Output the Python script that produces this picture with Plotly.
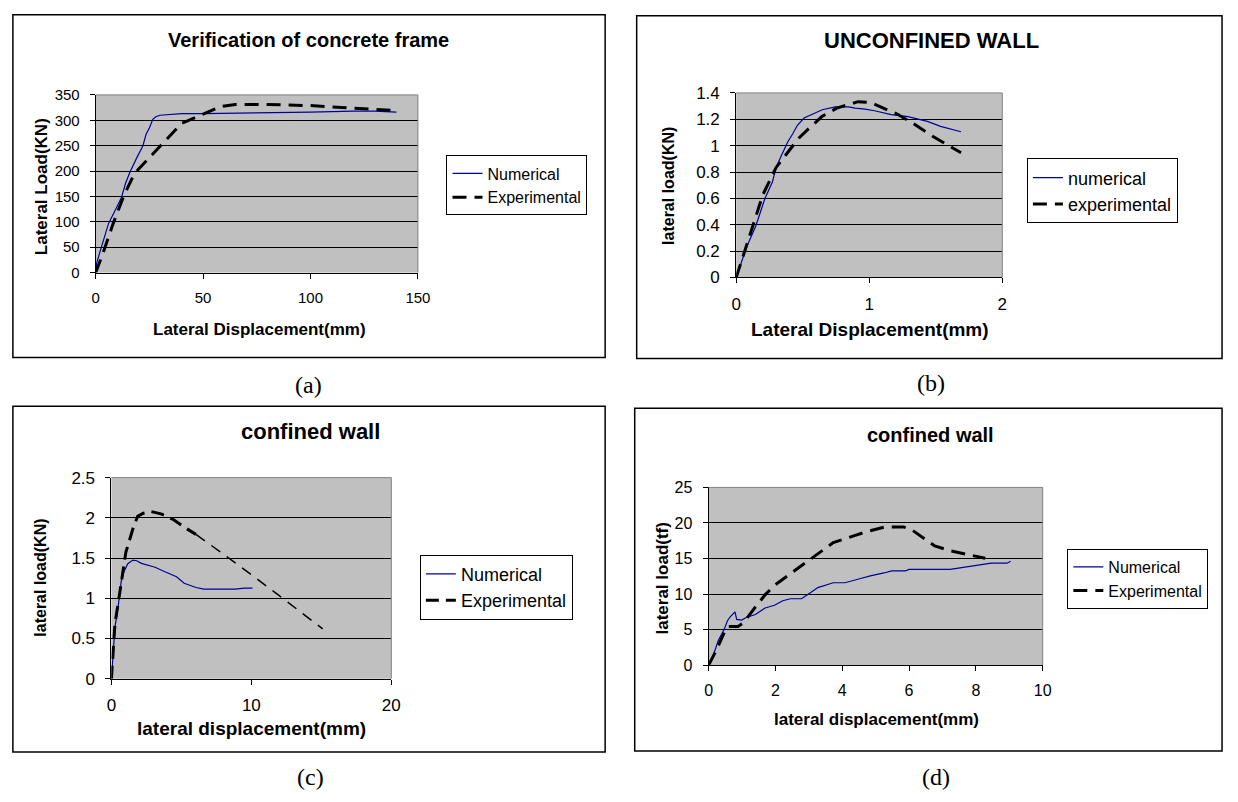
import plotly.graph_objects as go

W, H = 1238, 802

# ---------------- data ----------------
# (a) Verification of concrete frame
a_num_x = [0, 0.5, 1.8, 4, 6, 9, 12, 14, 16, 19, 22, 23.5, 25, 26.6, 28, 30, 35, 40, 50, 70, 100, 120, 130, 140]
a_num_y = [0, 19, 38, 70, 97, 122, 148, 177, 198, 225, 250, 273, 285, 302, 307, 310, 312, 313, 313, 314, 316, 318, 318, 316]
a_exp_x = [0, 3, 8, 13, 18, 22, 31, 40, 50, 58, 65, 80, 100, 120, 140]
a_exp_y = [0, 33, 95, 150, 195, 213, 254, 294, 312, 327, 331, 331, 329, 324, 319]

# (b) UNCONFINED WALL
b_num_x = [0, 0.079, 0.148, 0.215, 0.272, 0.30, 0.338, 0.388, 0.425, 0.46, 0.51, 0.57, 0.647, 0.745, 0.844, 0.894, 0.968, 1.04, 1.165, 1.29, 1.437, 1.536, 1.689]
b_num_y = [0, 0.233, 0.393, 0.597, 0.725, 0.835, 0.921, 1.03, 1.09, 1.155, 1.21, 1.236, 1.273, 1.295, 1.295, 1.285, 1.278, 1.265, 1.236, 1.22, 1.184, 1.147, 1.106]
b_exp_x = [0, 0.067, 0.128, 0.2, 0.30, 0.398, 0.47, 0.546, 0.644, 0.756, 0.916, 1.01, 1.11, 1.21, 1.333, 1.48, 1.69]
b_exp_y = [0, 0.209, 0.405, 0.627, 0.835, 0.958, 1.057, 1.13, 1.221, 1.285, 1.334, 1.327, 1.285, 1.24, 1.167, 1.069, 0.946]

# (c) confined wall (KN)
c_num_x = [0, 0.08, 0.25, 0.47, 0.7, 0.89, 1.17, 1.53, 1.81, 2.14, 2.7, 3.12, 3.82, 4.65, 5.2, 6.04, 6.6, 8.83, 9.53, 10.08]
c_num_y = [0, 0.19, 0.64, 0.88, 1.21, 1.33, 1.43, 1.475, 1.467, 1.434, 1.402, 1.386, 1.33, 1.268, 1.187, 1.134, 1.114, 1.114, 1.126, 1.126]
c_exp_x = [0, 0.08, 0.25, 0.61, 1.03, 1.59, 1.87, 2.28, 2.84, 3.54, 4.37, 5.2, 6.04, 9.1, 11.9, 15.1]
c_exp_y = [0, 0.275, 0.68, 1.086, 1.572, 1.896, 2.018, 2.058, 2.078, 2.05, 1.985, 1.884, 1.795, 1.41, 1.045, 0.62]

# (d) confined wall (tf)
d_num_x = [0, 0.14, 0.29, 0.47, 0.56, 0.64, 0.79, 0.84, 0.99, 1.11, 1.4, 1.69, 1.97, 2.22, 2.45, 2.78, 2.98, 3.27, 3.73, 4.08, 4.55, 4.84, 5.25, 5.48, 5.89, 6.0, 7.23, 8.05, 8.46, 8.93, 9.04]
d_num_y = [0, 1.38, 3.45, 5.06, 6.2, 6.76, 7.49, 6.43, 6.34, 6.66, 7.12, 8.04, 8.41, 9.05, 9.33, 9.33, 9.97, 10.9, 11.58, 11.58, 12.18, 12.55, 12.96, 13.24, 13.24, 13.46, 13.46, 14.0, 14.34, 14.34, 14.6]
d_exp_x = [0, 0.23, 0.47, 0.58, 0.88, 1.05, 1.34, 1.69, 1.98, 2.45, 3.03, 3.73, 4.32, 4.78, 5.25, 5.83, 6.07, 6.42, 6.77, 7.23, 7.7, 8.28]
d_exp_y = [0, 2.07, 4.6, 5.42, 5.42, 5.97, 7.81, 9.88, 11.26, 12.87, 14.94, 17.23, 18.15, 18.84, 19.39, 19.44, 19.07, 17.92, 16.77, 16.08, 15.62, 15.03]

titles = ["Verification of concrete frame", "UNCONFINED WALL", "confined wall", "confined wall"]
xtitles = ["Lateral Displacement(mm)", "Lateral Displacement(mm)", "lateral displacement(mm)", "lateral displacement(mm)"]
ytitles = ["Lateral Load(KN)", "lateral load(KN)", "lateral load(KN)", "lateral load(tf)"]
legend_names = [["Numerical", "Experimental"], ["numerical", "experimental"],
                ["Numerical", "Experimental"], ["Numerical", "Experimental"]]
captions = ["(a)", "(b)", "(c)", "(d)"]
x_ranges = [[0, 150], [0, 2], [0, 20], [0, 10]]
x_dticks = [50, 1, 10, 2]
y_ranges = [[0, 350], [0, 1.4], [0, 2.5], [0, 25]]
y_dticks = [50, 0.2, 0.5, 5]

# ---------------- layout geometry (pixels) ----------------
plot_px = [(92, 419, 88, 270), (742, 1012, 86, 275), (108, 392, 480, 686), (714, 1053, 490, 672)]
frame_px = [(8, 6, 609, 357), (641, 7, 1235, 358), (8, 407, 609, 761), (639, 409, 1235, 760)]
title_px = [(308, 32), (940, 32), (310, 433), (939, 436)]
xt_px = [(258, 328), (878, 328), (250, 737), (884, 728)]
yt_px = [(37, 182), (673, 181), (36, 582), (667, 583)]
leg_px = [(448, 150), (1037, 153), (421, 559), (1078, 553)]
cap_px = [(308, 385), (940, 383), (310, 787), (945, 787)]

FONT = "Liberation Sans, Arial, sans-serif"
tick_sizes = [15, 17, 17, 16]
title_sizes = [20, 22, 22, 20]
xt_sizes = [17, 19, 19, 17]
yt_sizes = [17, 16, 16, 17]
leg_sizes = [16, 18, 18, 16]

NAVY = "#000099"


def px_x(v):
    return v / W


def px_y(v):
    return 1 - v / H


fig = go.Figure()

data = [(a_num_x, a_num_y, a_exp_x, a_exp_y), (b_num_x, b_num_y, b_exp_x, b_exp_y),
        (c_num_x, c_num_y, c_exp_x, c_exp_y), (d_num_x, d_num_y, d_exp_x, d_exp_y)]

shapes = []
annotations = []
layout = {}
for i in range(4):
    sfx = "" if i == 0 else str(i + 1)
    xa, ya = "x" + sfx, "y" + sfx
    leg = "legend" + sfx
    nx, ny, ex, ey = data[i]
    fig.add_trace(go.Scatter(x=nx, y=ny, mode="lines", name=legend_names[i][0],
                             line=dict(color=NAVY, width=1.2), xaxis=xa, yaxis=ya, legend=leg))
    if i == 2:
        split = 13
        fig.add_trace(go.Scatter(x=ex[:split], y=ey[:split], mode="lines", name=legend_names[i][1],
                                 line=dict(color="black", width=3, dash="13px,7px"), xaxis=xa, yaxis=ya, legend=leg))
        fig.add_trace(go.Scatter(x=ex[split - 1:], y=ey[split - 1:], mode="lines", showlegend=False,
                                 line=dict(color="black", width=1.5, dash="11px,8px"), xaxis=xa, yaxis=ya))
    else:
        fig.add_trace(go.Scatter(x=ex, y=ey, mode="lines", name=legend_names[i][1],
                                 line=dict(color="black", width=3, dash="14px,8px"), xaxis=xa, yaxis=ya, legend=leg))

    x0, x1, y0, y1 = plot_px[i]
    layout["xaxis" + sfx] = dict(
        domain=[px_x(x0), px_x(x1)], anchor=ya, range=x_ranges[i], dtick=x_dticks[i], tick0=0,
        showgrid=False, zeroline=False, showline=True, linecolor="black", linewidth=1,
        ticks="outside", ticklen=5, tickcolor="black", ticklabelstandoff=6,
        tickfont=dict(family=FONT, size=tick_sizes[i], color="black"))
    layout["yaxis" + sfx] = dict(
        domain=[px_y(y1), px_y(y0)], anchor=xa, range=y_ranges[i], dtick=y_dticks[i], tick0=0,
        showgrid=True, gridcolor="black", gridwidth=1, zeroline=False, showline=True,
        linecolor="black", linewidth=1, ticks="outside", ticklen=5, tickcolor="black",
        ticklabelstandoff=7, tickfont=dict(family=FONT, size=tick_sizes[i], color="black"))

    lx, ly = leg_px[i]
    layout[leg] = dict(x=px_x(lx), y=px_y(ly), xanchor="left", yanchor="top", xref="paper", yref="paper",
                       bgcolor="white", bordercolor="black", borderwidth=1,
                       font=dict(family=FONT, size=leg_sizes[i], color="black"),
                       tracegroupgap=4, itemwidth=30)

    # grey top / right plot-area border
    shapes.append(dict(type="line", xref=xa + " domain", yref=ya + " domain", x0=0, x1=1, y0=1, y1=1,
                       line=dict(color="#808080", width=1)))
    shapes.append(dict(type="line", xref=xa + " domain", yref=ya + " domain", x0=1, x1=1, y0=0, y1=1,
                       line=dict(color="#808080", width=1)))
    # chart frame
    fx0, fy0, fx1, fy1 = frame_px[i]
    shapes.append(dict(type="rect", xref="paper", yref="paper", x0=px_x(fx0), x1=px_x(fx1),
                       y0=px_y(fy1), y1=px_y(fy0), line=dict(color="black", width=1.5)))

    tx, ty = title_px[i]
    annotations.append(dict(text="<b>%s</b>" % titles[i], x=px_x(tx), y=px_y(ty), xref="paper", yref="paper",
                            showarrow=False, xanchor="center", yanchor="middle",
                            font=dict(family=FONT, size=title_sizes[i], color="black")))
    tx, ty = xt_px[i]
    annotations.append(dict(text="<b>%s</b>" % xtitles[i], x=px_x(tx), y=px_y(ty), xref="paper", yref="paper",
                            showarrow=False, xanchor="center", yanchor="middle",
                            font=dict(family=FONT, size=xt_sizes[i], color="black")))
    tx, ty = yt_px[i]
    annotations.append(dict(text="<b>%s</b>" % ytitles[i], x=px_x(tx), y=px_y(ty), xref="paper", yref="paper",
                            showarrow=False, xanchor="center", yanchor="middle", textangle=-90,
                            font=dict(family=FONT, size=yt_sizes[i], color="black")))
    tx, ty = cap_px[i]
    annotations.append(dict(text=captions[i], x=px_x(tx), y=px_y(ty), xref="paper", yref="paper",
                            showarrow=False, xanchor="center", yanchor="middle",
                            font=dict(family="Liberation Serif, Times New Roman, serif", size=24, color="black")))

fig.update_layout(
    width=W, height=H, margin=dict(l=0, r=0, t=0, b=0),
    paper_bgcolor="white", plot_bgcolor="#C0C0C0",
    shapes=shapes, annotations=annotations, **layout)

fig.write_html("out.html", config={"displayModeBar": False},
               post_script="document.body.style.margin='0px';document.body.style.overflow='hidden';")
